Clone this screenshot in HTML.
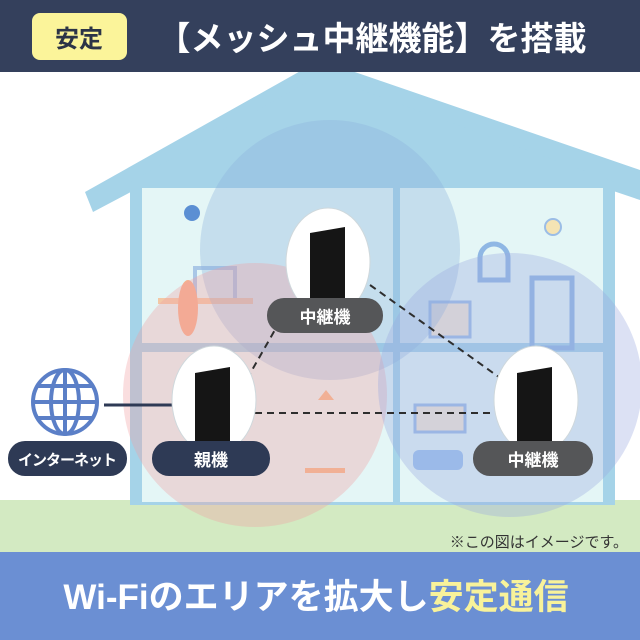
<!DOCTYPE html>
<html><head><meta charset="utf-8"><style>
html,body{margin:0;padding:0;width:640px;height:640px;overflow:hidden;background:#fff}
svg{display:block}
text{font-family:"Liberation Sans","Noto Sans CJK JP",sans-serif;font-weight:bold}
text.n{font-weight:normal}
</style></head><body>
<svg width="640" height="640" viewBox="0 0 640 640" xmlns="http://www.w3.org/2000/svg">
<rect width="640" height="640" fill="#ffffff"/>
<rect x="0" y="500" width="640" height="52" fill="#d3eac2"/>
<polygon points="85,192 320,60 640,170 640,200 320,92 93,212" fill="#a5d3e8"/>
<polygon points="130,182 320,75 615,182 615,505 130,505" fill="#a5d3e8"/>
<rect x="142" y="188" width="251" height="155" fill="#e4f6f6"/>
<rect x="400" y="188" width="203" height="155" fill="#e4f6f6"/>
<rect x="142" y="352" width="251" height="150" fill="#e4f6f6"/>
<rect x="400" y="352" width="203" height="150" fill="#e4f6f6"/>
<rect x="195" y="268" width="40" height="32" fill="none" stroke="#a9c7e6" stroke-width="4"/>
<rect x="158" y="298" width="95" height="6" fill="#f2c8a6"/>
<ellipse cx="188" cy="308" rx="10" ry="28" fill="#f4b08e"/>
<rect x="532" y="278" width="40" height="70" fill="none" stroke="#8fb7e4" stroke-width="5"/>
<rect x="430" y="302" width="40" height="35" fill="#f1e6d6" stroke="#9bbde6" stroke-width="3"/>
<path d="M480 280 v-22 a14 14 0 0 1 28 0 v22 z" fill="none" stroke="#8fb7e4" stroke-width="5"/>
<circle cx="553" cy="227" r="8" fill="#f5e4b4" stroke="#9bbde6" stroke-width="2"/>
<circle cx="192" cy="213" r="8" fill="#5b8fd3"/>
<rect x="413" y="450" width="50" height="20" rx="6" fill="#9cc3ef"/>
<rect x="415" y="405" width="50" height="27" fill="#f3e9d6" stroke="#9bbde6" stroke-width="3"/>
<rect x="305" y="468" width="40" height="5" fill="#f2b98e"/>
<path d="M318 400 l8 -10 l8 10 z" fill="#f2b98e"/>
<circle cx="330" cy="250" r="130" fill="#8cb3dd" opacity="0.35"/>
<circle cx="255" cy="395" r="132" fill="#f2a0a4" opacity="0.35"/>
<circle cx="510" cy="385" r="132" fill="#9aa9e0" opacity="0.35"/>
<line x1="104" y1="405" x2="175" y2="405" stroke="#2e3a55" stroke-width="3"/>
<g stroke="#2e2e2e" stroke-width="2" stroke-dasharray="7,5" fill="none">
<line x1="292" y1="300" x2="235" y2="400"/>
<line x1="370" y1="285" x2="503" y2="380"/>
<line x1="255" y1="413" x2="497" y2="413"/>
</g>
<g fill="#ffffff" stroke="#cfd8dc" stroke-width="1">
<ellipse cx="328" cy="262" rx="42" ry="54"/>
<ellipse cx="214" cy="400" rx="42" ry="54"/>
<ellipse cx="536" cy="400" rx="42" ry="54"/>
</g>
<g fill="#151515">
<polygon points="310,233 345,227 345,305 310,309"/>
<polygon points="195,373 230,367 230,443 195,447"/>
<polygon points="517,373 552,367 552,443 517,447"/>
</g>
<g stroke="#5b7fc7" stroke-width="4" fill="none">
<circle cx="65" cy="402" r="32"/>
<ellipse cx="65" cy="402" rx="14" ry="32"/>
<line x1="65" y1="370" x2="65" y2="434"/>
<line x1="33" y1="402" x2="97" y2="402"/>
<line x1="38" y1="386" x2="92" y2="386"/>
<line x1="38" y1="418" x2="92" y2="418"/>
</g>
<rect x="267" y="298" width="116" height="35" rx="17" fill="#555658"/>
<text x="325" y="323" font-size="17" fill="#fff" text-anchor="middle">中継機</text>
<rect x="152" y="441" width="118" height="35" rx="17" fill="#2e3a55"/>
<text x="211" y="466" font-size="17" fill="#fff" text-anchor="middle">親機</text>
<rect x="473" y="441" width="120" height="35" rx="17" fill="#555658"/>
<text x="533" y="466" font-size="17" fill="#fff" text-anchor="middle">中継機</text>
<rect x="8" y="441" width="119" height="35" rx="17" fill="#2e3a55"/>
<text x="67" y="465" font-size="15" fill="#fff" text-anchor="middle" letter-spacing="-1">インターネット</text>
<text class="n" x="628" y="547" font-size="15" fill="#333" text-anchor="end">※この図はイメージです。</text>
<rect x="0" y="0" width="640" height="72" fill="#34405c"/>
<rect x="32" y="13" width="95" height="47" rx="8" fill="#fbf49a"/>
<text x="79" y="47" font-size="24" fill="#2c3447" text-anchor="middle">安定</text>
<text x="372" y="50" font-size="33" fill="#fff" text-anchor="middle">【メッシュ中継機能】を搭載</text>
<rect x="0" y="552" width="640" height="88" fill="#6b8fd3"/>
<text x="316" y="609" font-size="35" fill="#fff" text-anchor="middle">Wi-Fiのエリアを拡大し<tspan fill="#f8f29a">安定通信</tspan></text>
</svg>
</body></html>
